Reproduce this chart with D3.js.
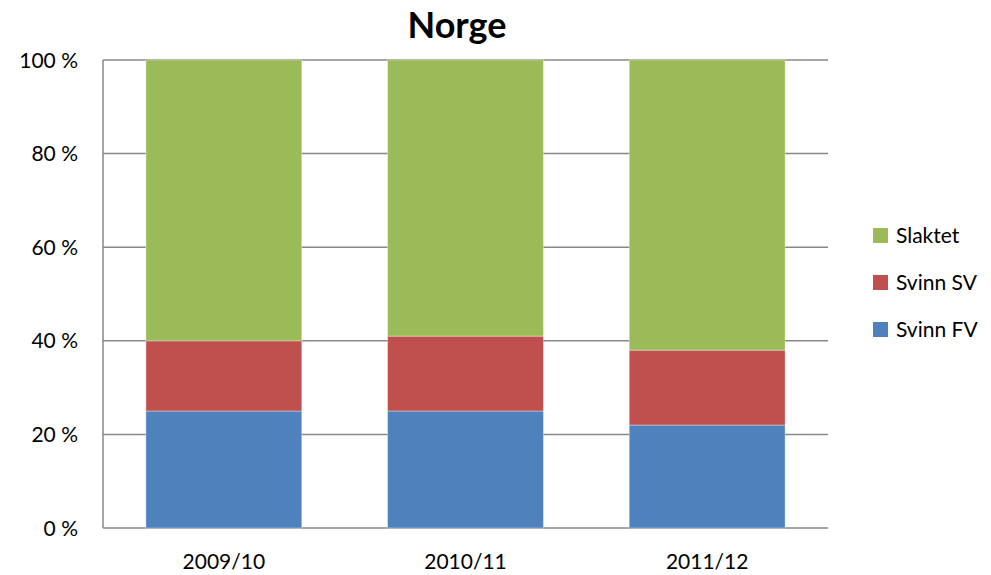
<!DOCTYPE html>
<html>
<head>
<meta charset="utf-8">
<script src="https://cdn.jsdelivr.net/npm/d3@7"></script>
<style>
  body { margin: 0; background: #fff; }
  text { font-family: Lato, "Open Sans", sans-serif; fill: #000; }
</style>
</head>
<body>
<div id="chart"></div>
<script>
// data
const seasons = ["2009/10", "2010/11", "2011/12"];
const seriesNames = ["Svinn FV", "Svinn SV", "Slaktet"];
const svinnFV = [25, 25, 22];
const svinnSV = [15, 16, 16];
const slaktet = [60, 59, 62];
const yTicks = [0, 20, 40, 60, 80, 100];
const colors = ["#4f81bd", "#c0504d", "#9bbb59"];

const width = 991, height = 575;
const margin = { left: 103, right: 163, top: 60, bottom: 47 };

const svg = d3.select("#chart")
    .append("svg")
    .attr("width", width)
    .attr("height", height);

const x = d3.scaleBand()
    .domain(seasons)
    .range([margin.left, width - margin.right])
    .paddingInner(0.355)
    .paddingOuter(0.1775);

const y = d3.scaleLinear()
    .domain([0, 100])
    .range([height - margin.bottom, margin.top]);

// gridlines
svg.append("g")
    .selectAll("line")
    .data(yTicks)
    .join("line")
    .attr("x1", margin.left)
    .attr("x2", width - margin.right)
    .attr("y1", d => y(d))
    .attr("y2", d => y(d))
    .style("stroke", "#888")
    .style("stroke-width", 1.5);

// y axis
svg.append("line")
    .attr("x1", margin.left)
    .attr("x2", margin.left)
    .attr("y1", y(0))
    .attr("y2", y(100))
    .style("stroke", "#888")
    .style("stroke-width", 1.5);

svg.append("g")
    .selectAll("text")
    .data(yTicks)
    .join("text")
    .attr("x", 78)
    .attr("y", d => y(d))
    .attr("dy", 7.5)
    .attr("text-anchor", "end")
    .style("font-size", "21px")
    .text(d => d + " %");

// stacked bars
const rows = seasons.map((s, i) => ({
    season: s,
    "Svinn FV": svinnFV[i],
    "Svinn SV": svinnSV[i],
    "Slaktet": slaktet[i]
}));
const stacked = d3.stack().keys(seriesNames)(rows);

svg.append("g")
    .selectAll("g")
    .data(stacked)
    .join("g")
    .style("fill", (d, i) => colors[i])
    .selectAll("rect")
    .data(d => d)
    .join("rect")
    .attr("x", d => x(d.data.season))
    .attr("width", x.bandwidth())
    .attr("y", d => y(d[1]))
    .attr("height", d => y(d[0]) - y(d[1]))
    .style("stroke", "rgba(255,255,255,0.35)")
    .style("stroke-width", 1);

// x labels
svg.append("g")
    .selectAll("text")
    .data(seasons)
    .join("text")
    .attr("x", d => x(d) + x.bandwidth() / 2)
    .attr("y", 569)
    .attr("text-anchor", "middle")
    .style("font-size", "21px")
    .text(d => d);

// title
svg.append("text")
    .attr("x", 457)
    .attr("y", 38)
    .attr("text-anchor", "middle")
    .style("font-size", "36px")
    .style("font-weight", "bold")
    .text("Norge");

// legend
const legendItems = ["Slaktet", "Svinn SV", "Svinn FV"];
const legendColors = ["#9bbb59", "#c0504d", "#4f81bd"];
const legend = svg.append("g");

legend.selectAll("rect")
    .data(legendItems)
    .join("rect")
    .attr("x", 873)
    .attr("y", (d, i) => 228 + i * 47)
    .attr("width", 15)
    .attr("height", 15)
    .style("fill", (d, i) => legendColors[i]);

legend.selectAll("text")
    .data(legendItems)
    .join("text")
    .attr("x", 896)
    .attr("y", (d, i) => 235 + i * 47)
    .attr("dy", 7.5)
    .style("font-size", "21px")
    .text(d => d);
</script>
</body>
</html>
